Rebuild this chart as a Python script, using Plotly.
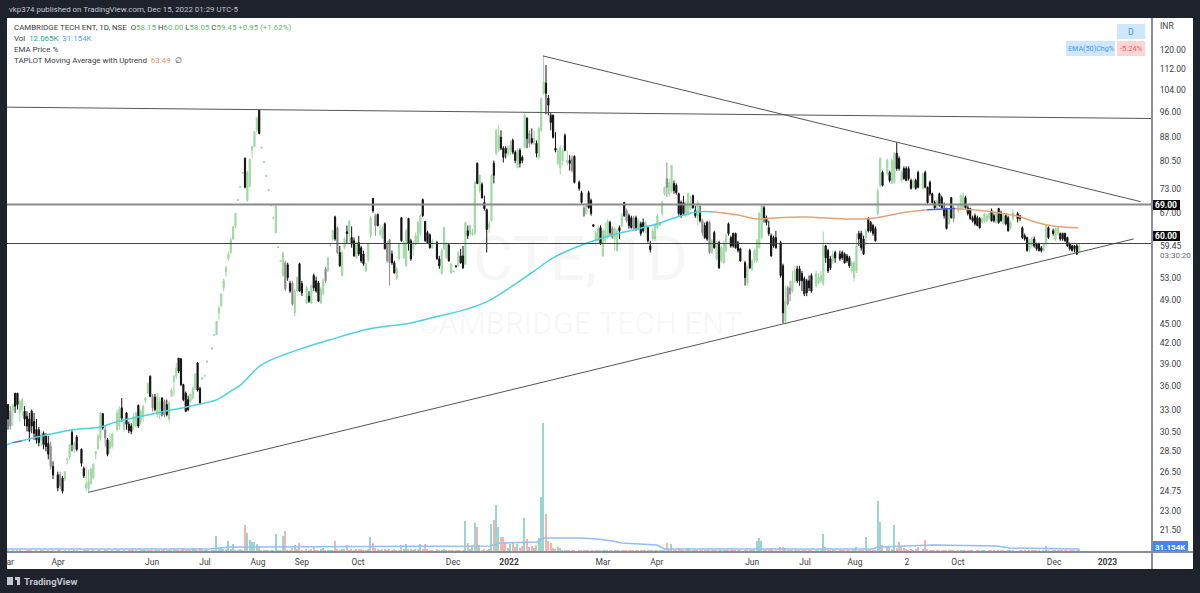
import numpy as np
import pandas as pd
import plotly.graph_objects as go

# daily bars, 10 per row
opens = [
    33.7,32.9,32.9,35.1,35.1,32.7,33.1,32.9,32.3,32.0,
    32.9,31.7,30.8,30.8,29.7,30.4,30.1,29.3,29.0,27.0,
    26.2,26.2,25.9,25.8,27.6,27.9,30.5,28.7,30.0,28.7,
    26.8,25.0,24.9,25.4,25.9,28.2,28.8,29.9,32.6,30.8,
    29.7,28.8,29.0,30.8,31.2,33.3,30.8,32.7,31.4,31.2,
    31.2,31.2,33.6,31.7,32.3,34.2,35.1,37.3,34.7,34.6,
    32.5,32.5,34.5,34.1,33.7,32.0,34.7,36.6,37.3,39.8,
    39.7,36.2,35.1,34.3,34.1,34.5,35.7,39.1,35.7,36.9,
    37.3,39.2,41.1,43.2,43.3,46.8,48.0,51.2,54.2,56.8,
    58.1,61.0,63.8,70.0,73.4,77.1,81.4,70.0,73.6,83.8,
    85.0,90.0,96.7,84.4,80.2,76.3,72.5,68.7,65.6,62.4,
    59.1,56.2,53.5,56.0,55.6,52.0,52.1,46.8,50.6,55.8,
    52.0,48.5,49.7,48.5,53.5,52.5,52.1,48.5,50.1,54.8,
    54.4,59.5,61.0,66.0,63.5,58.1,53.5,59.1,62.6,62.2,
    61.3,60.6,57.0,60.2,59.1,57.8,54.4,56.6,61.7,70.5,
    66.3,66.6,62.2,61.3,64.4,59.9,60.8,57.8,56.0,52.9,
    56.8,65.8,57.0,55.4,65.6,60.6,58.9,59.9,60.2,62.2,
    70.2,64.9,62.4,61.9,59.1,60.2,56.8,53.9,58.9,57.0,
    59.7,54.0,54.2,55.4,55.4,57.4,57.4,55.8,62.8,62.2,
    61.9,62.2,80.0,72.5,74.2,69.5,67.7,63.5,65.1,80.0,
    82.9,83.8,87.8,84.4,84.4,82.9,83.8,86.8,83.2,78.8,
    83.8,81.7,84.7,94.0,89.0,87.4,85.9,85.9,81.7,90.0,
    102.8,106.6,101.0,95.0,95.0,84.4,80.0,78.8,80.8,88.4,
    80.2,80.8,81.4,82.0,74.7,72.0,68.2,66.8,72.0,70.0,
    64.2,61.0,60.6,63.5,57.4,60.6,61.3,64.7,63.3,61.0,
    58.5,63.5,64.0,69.5,67.5,66.3,65.8,65.8,65.8,63.5,
    64.4,64.7,63.3,63.5,59.5,61.0,61.0,63.5,64.0,66.8,
    71.7,75.7,71.7,72.5,74.4,73.9,71.7,69.5,69.5,66.3,
    66.8,68.0,71.2,67.5,65.8,67.0,65.1,64.0,64.7,64.7,
    58.1,62.4,56.8,60.2,56.4,56.0,58.5,64.4,61.3,62.2,
    62.2,60.2,58.9,56.0,52.0,58.5,54.8,56.4,56.4,59.1,
    61.3,68.2,65.8,63.5,61.7,61.3,61.3,60.2,55.4,45.4,
    51.2,51.2,50.6,52.5,54.8,54.8,53.9,52.9,52.5,52.5,
    53.5,51.6,52.1,52.5,52.0,59.5,58.5,56.8,56.4,58.1,
    57.8,58.1,57.8,57.4,57.0,54.4,53.1,54.4,62.2,62.2,
    61.0,61.3,65.6,64.7,64.0,63.3,66.8,73.9,77.4,77.1,
    77.4,74.4,74.7,82.9,81.4,75.2,78.5,78.5,78.5,75.2,
    73.4,75.2,77.4,73.1,77.4,73.4,74.7,71.7,69.5,68.2,
    71.7,70.7,68.0,68.0,64.4,70.7,68.0,67.5,68.0,68.2,
    70.7,68.2,68.0,65.8,66.3,65.8,65.6,64.7,65.1,65.1,
    65.8,67.5,66.3,64.7,68.0,67.0,64.4,66.3,65.8,63.5,
    65.6,66.8,66.3,63.5,61.7,61.3,58.9,59.5,61.0,59.9,
    59.9,59.1,58.5,59.9,63.5,62.8,61.0,62.2,62.2,62.2,
    62.2,61.3,59.9,59.5,59.5,59.5,58.15,
]
closes = [
    32.0,31.2,33.7,33.5,33.7,34.1,34.3,32.0,31.2,30.6,
    31.2,30.4,29.7,29.4,30.3,29.2,29.0,28.2,27.0,26.2,
    25.0,25.2,24.7,26.5,27.8,29.2,29.2,29.3,28.7,27.3,
    26.1,25.4,25.6,26.7,27.2,28.5,30.1,32.7,31.0,29.9,
    28.2,29.5,30.3,32.7,33.1,32.1,31.7,31.4,30.7,30.6,
    32.3,32.7,31.2,32.9,33.5,34.5,36.3,34.7,33.3,33.1,
    34.7,34.1,32.7,32.5,32.5,33.9,35.5,37.3,38.4,38.0,
    36.2,34.3,32.9,33.1,35.0,35.7,37.6,35.5,33.9,37.1,
    37.4,39.4,41.3,43.3,45.4,47.6,50.1,52.5,55.0,57.8,
    60.8,63.8,66.8,70.2,73.6,77.4,73.4,77.4,81.1,85.0,
    89.4,94.0,89.0,84.7,80.5,76.6,72.8,69.0,65.8,68.7,
    59.3,56.4,58.1,51.0,53.1,50.6,48.3,50.6,53.1,50.6,
    50.3,51.2,48.8,51.6,51.2,50.6,48.8,51.0,52.5,52.5,
    57.0,59.7,62.8,61.0,58.1,55.4,58.1,61.0,62.2,65.1,
    59.9,57.4,60.2,57.8,56.4,55.8,55.8,59.9,65.8,67.5,
    64.0,64.0,62.8,63.3,58.9,56.4,56.0,56.0,54.0,54.8,
    59.9,60.6,60.2,62.8,59.9,56.8,60.2,61.7,64.7,66.3,
    66.3,60.6,60.2,59.1,60.6,56.8,55.4,58.5,63.5,59.9,
    56.4,55.8,54.4,55.2,58.1,56.0,55.0,64.7,61.7,64.0,
    62.4,74.7,74.4,76.6,70.7,68.0,63.1,64.4,76.6,76.6,
    90.0,88.4,84.4,81.7,82.9,84.4,85.3,83.2,80.8,83.8,
    80.0,80.8,95.0,87.4,85.9,86.2,87.4,82.9,90.6,101.0,
    107.0,102.8,98.5,92.6,87.8,83.8,83.8,84.7,83.8,83.8,
    80.8,80.0,77.9,74.7,73.1,69.5,66.3,68.7,68.2,66.8,
    63.8,62.4,63.3,59.9,62.8,62.8,65.1,62.4,61.3,63.3,
    62.8,62.8,66.3,66.3,65.1,64.0,63.5,63.3,63.5,65.1,
    62.2,62.8,64.7,60.6,58.7,62.8,64.0,66.3,64.7,69.5,
    73.4,73.4,74.7,79.4,72.5,72.0,66.8,66.3,66.8,69.2,
    71.7,69.5,68.2,66.3,69.5,65.1,62.4,61.3,61.0,58.1,
    60.6,59.1,60.2,55.0,59.1,59.9,61.7,62.2,59.5,59.5,
    59.1,58.5,56.4,53.1,55.0,55.0,56.4,58.5,60.6,66.8,
    68.7,65.8,64.7,62.2,57.4,59.5,59.1,53.5,46.8,48.8,
    48.3,50.1,52.5,54.4,52.5,52.5,52.5,50.1,50.3,51.2,
    50.6,53.9,53.1,53.5,59.5,57.0,54.4,55.0,57.8,57.0,
    56.8,57.0,56.0,56.4,55.4,56.0,56.0,59.5,61.0,59.1,
    57.8,62.8,62.8,62.8,62.2,60.6,72.5,81.4,73.9,80.8,
    75.2,80.8,82.9,78.5,78.5,77.4,75.7,75.2,75.7,73.1,
    75.2,73.1,73.4,77.1,73.4,69.5,71.7,69.5,68.2,70.0,
    68.7,68.2,66.3,63.3,67.5,65.8,65.6,68.7,71.2,71.2,
    68.2,66.8,65.6,65.1,64.4,64.0,63.5,65.6,66.8,66.3,
    66.8,65.1,65.1,66.8,64.7,65.1,66.3,64.4,62.8,64.7,
    67.0,65.6,65.6,61.3,61.0,58.5,60.6,61.0,59.5,58.9,
    58.5,58.5,59.9,64.0,61.3,62.2,63.3,63.5,61.0,61.0,
    60.6,59.5,58.9,58.5,58.9,57.8,59.45,
]
highs = [
    33.7,33.5,33.7,35.1,35.1,34.3,34.5,33.5,32.9,32.7,
    33.1,32.7,32.0,31.1,30.6,30.6,30.4,30.1,29.5,27.5,
    26.5,26.5,26.1,26.5,27.8,29.2,30.8,29.5,30.2,28.8,
    27.0,27.0,26.7,26.9,27.3,28.5,30.3,32.8,32.7,31.2,
    29.9,30.4,30.5,33.1,33.5,34.5,32.2,32.8,31.7,31.5,
    32.7,32.9,33.7,33.1,33.7,34.6,36.5,37.4,35.0,35.0,
    35.1,34.6,34.6,34.3,34.3,34.1,35.7,37.4,39.1,39.8,
    39.8,36.3,35.3,34.8,35.1,35.9,37.7,39.2,35.9,37.1,
    37.4,39.4,41.3,43.3,45.4,48.0,50.1,52.9,55.4,58.3,
    61.3,63.8,67.0,70.2,73.6,77.4,81.7,77.9,81.4,85.0,
    89.7,94.6,97.0,84.7,80.5,76.6,72.8,69.0,65.8,69.0,
    59.3,56.4,58.1,56.4,56.0,52.5,52.5,51.0,53.3,56.0,
    52.5,51.6,50.6,51.8,53.9,53.3,52.5,51.4,52.9,55.2,
    57.2,59.7,63.1,66.3,63.8,59.5,58.5,61.3,64.0,65.1,
    63.8,61.3,60.4,61.7,59.5,58.5,56.0,60.2,66.3,70.7,
    66.8,66.8,64.0,63.8,64.7,60.6,61.0,58.5,56.4,55.2,
    60.2,66.0,60.6,63.3,65.8,61.0,60.6,62.4,65.1,66.6,
    70.5,65.1,62.8,62.2,61.0,60.6,57.4,58.9,63.8,60.4,
    59.9,56.0,54.4,55.4,58.5,58.9,59.5,64.9,64.0,64.2,
    63.3,75.0,80.2,76.8,74.7,71.2,68.0,65.1,76.8,80.8,
    90.6,91.6,90.0,85.0,85.0,85.3,86.8,87.4,83.8,84.4,
    84.4,82.3,95.6,94.3,90.0,90.6,90.0,86.8,91.3,101.3,
    117.5,113.7,102.1,96.0,95.3,89.4,84.4,85.3,84.4,89.0,
    83.8,82.3,82.3,82.3,75.2,72.5,68.7,69.2,72.5,70.5,
    64.2,62.8,64.0,64.0,63.3,64.7,65.6,65.1,63.8,63.8,
    63.3,64.0,67.0,69.7,68.0,66.8,66.3,66.3,66.3,65.6,
    64.9,65.6,65.1,64.0,60.6,63.3,64.4,66.8,64.7,70.0,
    73.6,80.2,75.7,79.4,75.2,74.4,72.0,70.0,71.2,70.0,
    72.0,71.2,71.5,68.7,70.0,68.7,65.6,64.7,65.1,65.1,
    61.0,62.8,60.6,60.6,59.5,60.6,62.2,64.7,61.7,62.4,
    62.4,60.6,59.1,56.4,55.4,58.9,56.8,58.9,61.0,67.2,
    68.7,68.7,66.3,65.1,62.2,61.7,62.8,60.6,55.8,51.6,
    51.6,52.5,54.4,55.4,55.4,55.4,54.4,53.3,52.9,53.5,
    53.9,54.4,54.0,54.4,62.6,59.7,58.9,57.4,58.5,58.5,
    58.5,58.5,58.1,57.8,57.4,56.4,56.4,62.2,62.8,62.8,
    61.7,63.3,66.0,65.1,64.4,63.8,73.1,81.7,77.9,81.4,
    77.9,81.4,83.2,86.2,82.0,77.9,79.1,79.1,79.1,75.7,
    75.7,75.7,77.9,77.4,77.9,73.6,75.2,72.0,70.0,70.5,
    72.0,71.2,69.5,68.2,68.0,70.9,68.7,69.2,71.5,72.0,
    71.2,68.7,68.2,66.3,66.8,66.3,66.0,66.0,67.0,66.8,
    67.0,68.0,66.8,67.0,68.2,67.5,66.8,66.8,66.3,65.1,
    68.0,67.2,66.3,63.8,62.2,61.5,61.0,61.5,61.5,60.2,
    60.2,59.5,60.2,64.2,63.8,63.3,63.5,63.8,62.4,62.4,
    62.4,61.5,60.2,59.7,59.7,59.9,60.0,
]
lows = [
    30.8,30.8,31.2,32.7,33.1,31.7,32.3,31.2,30.6,29.5,
    30.4,29.7,29.3,29.0,29.0,28.7,28.5,27.7,26.7,25.8,
    24.7,24.9,24.5,25.6,27.2,27.7,28.5,28.3,28.5,27.0,
    25.9,24.7,24.6,25.3,25.8,27.7,28.6,29.6,30.8,29.0,
    28.0,28.3,28.8,30.6,30.8,31.7,30.6,30.8,30.4,30.3,
    30.8,31.0,31.0,31.4,31.7,33.9,35.0,34.6,32.9,32.9,
    32.2,32.0,32.3,32.2,32.3,31.7,34.6,34.7,36.9,37.7,
    36.0,34.1,32.8,32.9,33.9,34.3,35.5,35.3,33.7,36.9,
    37.3,39.2,41.1,43.2,43.3,45.7,47.8,50.6,53.3,56.4,
    57.8,60.8,63.3,70.0,73.4,77.1,73.1,69.7,73.4,81.4,
    84.7,89.4,88.7,84.4,80.2,76.3,72.5,68.7,65.6,62.2,
    59.1,56.2,53.3,50.6,52.5,50.3,48.0,46.2,50.3,50.5,
    49.7,48.3,48.5,48.3,50.6,50.3,48.7,48.3,49.9,52.1,
    54.2,59.5,60.6,60.6,57.8,55.2,53.3,58.9,59.9,60.2,
    59.1,57.2,56.8,57.4,56.0,55.4,54.2,56.2,61.3,67.0,
    61.7,63.8,61.7,61.0,58.7,56.0,51.6,55.6,53.9,52.7,
    56.4,60.4,56.8,55.2,58.5,56.4,57.4,59.5,59.9,61.7,
    66.0,60.4,59.9,58.9,58.9,56.6,54.8,53.7,58.5,56.8,
    56.2,54.0,54.2,55.2,55.2,55.8,54.8,55.6,61.0,61.7,
    61.7,61.9,74.2,72.0,70.5,67.5,58.1,62.4,64.9,74.4,
    82.3,83.2,83.8,80.2,81.4,82.0,82.3,82.6,80.0,78.5,
    78.8,80.0,84.4,84.4,84.7,85.6,85.3,81.7,81.1,89.4,
    102.1,95.3,95.0,90.0,87.4,83.2,79.4,76.8,79.4,83.5,
    79.4,77.9,77.4,74.4,72.5,69.2,66.0,66.6,68.0,66.3,
    63.8,59.5,59.9,59.7,57.2,60.2,61.0,61.9,61.0,58.5,
    58.3,61.0,63.5,66.0,64.7,63.3,63.3,62.8,62.8,62.8,
    61.7,62.4,62.2,60.2,58.1,60.6,60.6,63.1,64.0,66.3,
    71.2,70.9,70.9,72.0,71.7,71.5,66.3,65.8,66.3,65.8,
    66.3,67.5,68.0,65.8,64.0,64.7,61.7,61.0,60.6,57.8,
    57.8,58.9,56.4,54.8,56.0,55.8,58.1,61.7,59.1,59.1,
    58.9,58.1,56.2,51.6,51.6,54.8,54.4,56.0,56.0,58.9,
    61.0,64.7,64.0,61.7,57.2,59.1,58.9,53.1,45.1,45.1,
    48.0,48.8,50.3,52.1,52.1,51.6,50.6,49.7,49.7,50.6,
    50.3,51.2,51.8,52.1,51.6,56.0,54.0,54.6,55.8,56.0,
    56.4,56.6,55.8,56.0,55.0,54.0,52.5,54.0,59.5,58.5,
    57.6,59.5,62.4,62.4,61.7,60.4,66.3,73.4,73.6,76.6,
    74.7,74.2,74.4,77.9,77.9,74.7,75.4,75.0,75.2,72.8,
    73.1,72.8,73.1,72.8,73.1,69.2,71.2,69.2,68.0,68.0,
    68.5,68.0,65.6,63.1,64.2,65.6,64.7,67.0,67.5,68.0,
    68.0,66.3,65.3,64.7,64.0,63.8,63.3,64.4,64.7,64.7,
    65.3,64.9,64.7,64.4,64.4,64.9,64.2,64.0,62.6,63.1,
    65.1,64.7,65.1,61.0,60.6,58.3,58.1,59.1,59.1,58.5,
    58.3,58.1,58.3,59.5,61.0,61.7,60.6,61.7,60.6,60.6,
    60.4,59.3,58.5,58.3,58.1,57.6,58.05,
]
volumes_k = [
    12,10,14,9,11,13,10,8,12,15,
    11,9,13,10,12,14,9,11,10,13,
    15,12,10,14,9,11,8,13,12,10,
    11,14,16,10,12,9,13,11,10,12,
    14,10,12,15,11,9,13,10,12,14,
    16,12,10,13,11,15,18,14,25,12,
    20,14,18,30,16,22,12,28,18,35,
    24,40,18,30,22,38,26,20,42,30,
    16,20,18,22,170,40,50,30,26,110,
    30,80,24,18,30,22,280,200,120,100,
    100,80,60,20,15,18,14,12,16,190,
    14,20,170,220,18,22,40,70,30,90,
    24,30,20,28,50,24,18,30,40,22,
    16,20,24,110,30,20,28,34,70,24,
    26,22,34,28,30,24,20,26,160,90,
    40,30,24,28,36,20,26,22,30,18,
    24,70,30,80,28,34,22,26,30,80,
    30,80,26,20,24,28,18,22,26,20,
    16,18,14,20,22,18,24,320,90,26,
    70,300,260,70,24,30,22,30,290,330,
    490,260,160,160,90,40,80,100,50,80,
    40,60,350,130,50,60,40,70,150,570,
    1340,390,110,90,40,30,50,40,24,20,
    18,22,16,20,14,18,12,16,14,20,
    16,14,18,12,16,20,14,18,16,22,
    14,18,12,16,14,20,16,14,18,12,
    16,14,20,12,18,14,16,18,12,16,
    18,90,14,80,20,16,40,18,14,12,
    40,16,14,18,12,20,16,14,18,14,
    12,16,14,18,12,16,14,20,16,14,
    12,16,14,18,20,14,16,18,110,150,
    110,24,20,30,40,18,22,50,50,40,
    20,16,18,14,20,16,18,14,16,20,
    18,14,20,16,190,50,24,18,14,20,
    16,18,14,20,16,18,14,50,24,18,
    20,160,18,14,20,16,530,310,70,60,
    50,30,280,40,100,50,40,30,24,30,
    24,30,50,28,120,30,20,24,18,22,
    16,20,14,18,14,20,16,12,18,14,
    16,12,18,14,10,16,12,18,14,10,
    16,12,14,10,16,12,14,10,16,12,
    14,10,16,12,14,10,18,14,12,16,
    14,10,12,60,18,14,20,16,12,14,
    16,12,14,18,12,16,12,
]
# sessions whose bar could not be made out
skipped_sessions = [20,30,45,85,125,180,240,310,325,340,350,370,385,400,425,440]
grey_bars = [1,18,21,39,58,63,113,116,129,134,150,155,156,214,232,236,248,254,257,271,286,289,320,321,386]

ema_days = [-0.4,2.1,5.9,12.2,27.4,38.8,46,62.9,76.8,88.2,93.7,97.9,106.3,112.7,123.2,135.9,152.7,169.6,178.1,194.9,203.4,221.5,230,244.3,258.2,272.2,282.3,290.7,298.3,
            307.6,316,321.5,335.4,355.3,365,376.4,387.8,399.6,415.6,425.7,434.1,440.9,451.5]
ema_vals = [29.2,29.4,29.6,30.0,30.8,31.1,31.7,32.7,33.5,34.3,35.3,36.1,38.7,39.8,41.1,42.5,44.2,45.1,45.9,47.6,49.0,54.2,57.0,60.1,62.3,64.1,66.0,67.2,67.2,
            66.5,65.5,65.7,66.0,65.5,65.7,66.9,67.7,68.0,67.2,66.2,64.7,63.9,63.49]
vol_ma_days = [-0.4,85,93.7,194.9,203.4,207.6,223.2,225.7,241.4,248.5,255.3,259,266.7,273.8,277,365,367,384.8,390.3,417.3,422.8,452.3]
vol_ma_vals = [31,31,52,62,62,93,104,145,145,135,114,93,83,72,31,31,52,62,72,62,41,31]

trend_down_days = [225.7,478]
trend_down_vals = [117.5,69.7]
trend_up_days = [33.8,475]
trend_up_vals = [24.6,61.0]
top_line_days = [-0.42,482.7]
top_line_vals = [97.8,93.9]
level_days = [-0.42,482.7]
level_69 = [69,69]
level_60 = [60,60]

price_ticks = [120,112,104,96,88,80.5,73,67,53,49,45,42,39,36,33,30.5,28.5,26.5,24.75,23,21.5]
date_ticks = [0.9,21.1,60.8,83.1,105.5,124,147.7,187.8,211.4,251,273.8,314,336.3,357.4,379.3,400.8,441.4,463.9]
date_labels = ["ar","Apr","Jun","Jul","Aug","Sep","Oct","Dec","<b>2022</b>","Mar","Apr","Jun","Jul","Aug","2","Oct","Dec","<b>2023</b>"]

W, H = 1200, 593
LEFT, RIGHT, TOP, BOTTOM = 7, 1152, 18, 552
FONT = "Roboto"
DARK = "#1d222d"
TEXT = "#3a3d44"

def px_x(x):
    return (x - LEFT) / (RIGHT - LEFT)

def px_y(y):
    return (BOTTOM - y) / (BOTTOM - TOP)

sessions = [s for s in range(len(opens) + len(skipped_sessions)) if s not in skipped_sessions]
bars = pd.DataFrame({"s": sessions, "o": opens, "h": highs, "l": lows, "c": closes, "v": volumes_k})
bars["grey"] = bars.index.isin(grey_bars)
bars["up"] = bars.c >= bars.o

def ema_slice(first, last):
    return ema_days[first:last], ema_vals[first:last]

def candles(df, line, fill):
    return go.Candlestick(x=df.s, open=df.o, high=df.h, low=df.l, close=df.c, whiskerwidth=0,
                          increasing=dict(line=dict(color=line, width=1), fillcolor=fill),
                          decreasing=dict(line=dict(color=line, width=1), fillcolor=fill),
                          hoverinfo="skip", showlegend=False)

def line(x, y, color, width, axis="y", shape="linear"):
    return go.Scatter(x=x, y=y, mode="lines", yaxis=axis, hoverinfo="skip", showlegend=False,
                      line=dict(color=color, width=width, shape=shape))

fig = go.Figure()

fig.add_trace(go.Bar(x=bars.s, y=bars.v, yaxis="y2", width=0.6, hoverinfo="skip", showlegend=False,
                     marker=dict(color=np.where(bars.up, "#9ad6cd", "#f8b2b0").tolist(), line_width=0)))
fig.add_trace(line(vol_ma_days, vol_ma_vals, "#93bdf8", 1.5, "y2"))

fig.add_trace(candles(bars[bars.up & ~bars.grey], "#9ed8a2", "#a9d9ac"))
fig.add_trace(candles(bars[~bars.up & ~bars.grey], "#111111", "#111111"))
fig.add_trace(candles(bars[bars.grey], "#8c8c8c", "#8c8c8c"))

fig.add_trace(line(*ema_slice(0, 2), "#4dd0e1", 1.5, shape="spline"))
fig.add_trace(line(*ema_slice(1, 3), "#4a62d8", 1.5, shape="spline"))
fig.add_trace(line(*ema_slice(2, 29), "#4dd0e1", 1.5, shape="spline"))
fig.add_trace(line(*ema_slice(28, 37), "#e8a272", 1.5, shape="spline"))
fig.add_trace(line(*ema_slice(36, 38), "#4a62d8", 1.5, shape="spline"))
fig.add_trace(line(*ema_slice(37, 43), "#e8a272", 1.5, shape="spline"))

fig.add_trace(line(top_line_days, top_line_vals, "#555555", 1))
fig.add_trace(line(level_days, level_69, "#8a8a8a", 2))
fig.add_trace(line(level_days, level_60, "#444444", 1))
fig.add_trace(line(trend_down_days, trend_down_vals, "#555555", 1))
fig.add_trace(line(trend_up_days, trend_up_vals, "#555555", 1))

def label(text, x, y, size=7.9, color=TEXT, anchor="left", **kw):
    return dict(text=text, x=px_x(x), y=px_y(y), xref="paper", yref="paper", showarrow=False,
                xanchor=anchor, yanchor="middle", font=dict(family=FONT, size=size, color=color), **kw)

def box(x0, y0, x1, y1, color, layer="above"):
    return dict(type="rect", xref="paper", yref="paper", x0=px_x(x0), x1=px_x(x1), y0=px_y(y0), y1=px_y(y1),
                fillcolor=color, line_width=0, layer=layer)

green = "#5fb765"
def coloured(text, color):
    return f'<span style="color:{color}">{text}</span>'

annotations = [
    label("vkp374 published on TradingView.com, Dec 15, 2022 01:29 UTC-5", 7, 9.5, 7.9, "#c4c7ce"),
    label("CAMBRIDGE TECH ENT, 1D, NSE  O" + coloured("58.15", green) + " H" + coloured("60.00", green)
          + " L" + coloured("58.05", green) + " C" + coloured("59.45", green) + " "
          + coloured("+0.95 (+1.62%)", green), 12, 27.5),
    label("Vol  " + coloured("12.065K", "#26a69a") + "  " + coloured("31.154K", "#5b9cf6"), 12, 38.5),
    label("EMA Price %", 12, 49.5),
    label("TAPLOT Moving Average with Uptrend  " + coloured("63.49", "#e8965a") + "  ∅", 12, 60.5),
    label("CTE, 1D", 580, 258, 62, "rgba(0,0,0,0.035)", "center"),
    label("CAMBRIDGE TECH ENT", 580, 323, 31, "rgba(0,0,0,0.035)", "center"),
    label("D", 1131, 31.5, 8.5, "#3d9bf3", "center"),
    label("EMA(50)Chg%", 1091, 48.5, 7.2, "#3d9bf3", "center"),
    label("-5.24%", 1131, 48.5, 7.5, "#f25a57", "center"),
    label("INR", 1158, 26, 8.5),
    label("<b>69.00</b>", 1166, 205, 8.5, "#ffffff", "center"),
    label("<b>60.00</b>", 1166, 236, 8.5, "#ffffff", "center"),
    label("59.45", 1158, 246, 8.5),
    label("03:30:20", 1158, 255, 8, "#6a6d75"),
    label("<b>31.154K</b>", 1170, 547, 8, "#ffffff", "center"),
    label("<b>TradingView</b>", 22, 581, 9.5, "#c4c7ce"),
]

shapes = [
    box(7, 18, 1193, 569, "#ffffff", "below"),
    box(1117, 24, 1145, 39, "#cfe6fb"),
    box(1066, 41, 1115, 56, "#cfe6fb"),
    box(1117, 41, 1145, 56, "#fdd5d5"),
    box(1152, 200, 1180, 210, "#0b0b0b"),
    box(1152, 231, 1180, 241, "#0b0b0b"),
    box(1152, 541, 1188, 552, "#3f86f2"),
    # right and bottom scale borders
    box(1151, 18, 1153, 569, "#8a8d93"),
    box(7, 551, 1193, 553, "#8a8d93"),
    # logo
    box(7, 577, 13, 585, "#c4c7ce"),
    box(15, 577, 18, 580, "#c4c7ce"),
    box(17, 577, 20, 585, "#c4c7ce"),
]

fig.update_layout(
    width=W, height=H, autosize=False,
    margin=dict(l=LEFT, r=W - RIGHT, t=TOP, b=H - BOTTOM, pad=0),
    paper_bgcolor=DARK, plot_bgcolor="#ffffff", showlegend=False,
    font=dict(family=FONT, size=8.5, color=TEXT), bargap=0,
    annotations=annotations, shapes=shapes,
    xaxis=dict(range=[-0.42, 482.7], showgrid=False, zeroline=False, rangeslider=dict(visible=False),
               tickmode="array", tickvals=date_ticks, ticktext=date_labels, ticks="outside", ticklen=2,
               tickcolor="rgba(0,0,0,0)", tickangle=0, tickfont=dict(family=FONT, size=8.5, color=TEXT)),
    yaxis=dict(type="log", range=[np.log10(19.87), np.log10(134.6)], side="right",
               showgrid=False, zeroline=False, tickmode="array", tickvals=price_ticks,
               ticktext=[f"{p:.2f}" for p in price_ticks], ticks="outside", ticklen=5,
               tickcolor="rgba(0,0,0,0)", tickfont=dict(family=FONT, size=8.5, color=TEXT)),
    yaxis2=dict(overlaying="y", range=[0, 5530], visible=False),
)

fig.write_html("out.html", config=dict(displayModeBar=False),
               post_script="document.body.style.margin='0';document.body.style.background='#1d222d';")
